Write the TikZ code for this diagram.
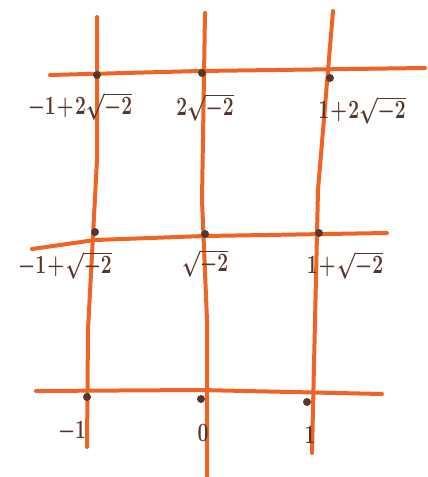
\documentclass[tikz,border=0pt]{standalone}
\usepackage{amsmath}
\usetikzlibrary{positioning}
\definecolor{penorange}{RGB}{240,100,35}
\definecolor{penbrown}{RGB}{85,55,45}
\newcommand{\handlbl}[1]{\scalebox{0.8}[1.1]{\medmuskip=1mu$#1$}}

\begin{document}
\begin{tikzpicture}[
  x=0.5pt, y=-0.5pt,
  gridline/.style={penorange, line width=2pt, line cap=round, line join=round},
  dot/.style={circle, fill=penbrown, inner sep=0pt, minimum size=4pt},
  lbl/.style={text=penbrown, font=\large\boldmath, inner sep=1pt}
]
\useasboundingbox (0,0) rectangle (428,477);
% ends of the vertical lines
\coordinate (vl1) at (97,17);  \coordinate (vl2) at (87,447);
\coordinate (vm1) at (205,13); \coordinate (vm2) at (207,477);
\coordinate (vr1) at (333,11); \coordinate (vr2) at (312,453);
% ends of the horizontal lines
\coordinate (ht1) at (50,75);  \coordinate (ht2) at (425,68);
\coordinate (hm1) at (32,249); \coordinate (hm2) at (387,233);
\coordinate (hb1) at (36,391); \coordinate (hb2) at (382,394);
\draw[gridline] (vl1) -- (97,160) -- (88,330) -- (vl2);
\draw[gridline] (vm1) -- (202,200) -- (207,320) -- (vm2);
\draw[gridline] (vr1) -- (318,190) -- (vr2);
\draw[gridline] (ht1) -- (200,71) -- (ht2);
\draw[gridline] (hm1) -- (95,240) -- (205,236) -- (hm2);
\draw[gridline] (hb1) -- (200,390) -- (hb2);
% lattice points
\node[dot] (ptl) at (97,75) {};
\node[dot] (ptm) at (202,73) {};
\node[dot] (ptr) at (330,78) {};
\node[dot] (pml) at (95,232) {};
\node[dot] (pmm) at (205,234) {};
\node[dot] (pmr) at (319,233) {};
\node[dot] (pbl) at (87,397) {};
\node[dot] (pbm) at (201,399) {};
\node[dot] (pbr) at (307,402) {};
% labels
\node[lbl] (tl) at (80,106) {\handlbl{-1+2\sqrt{-2}}};
\node[lbl] (tm) at (205,107) {\handlbl{2\sqrt{-2}}};
\node[lbl] (tr) at (362,110) {\handlbl{1+2\sqrt{-2}}};
\node[lbl] (ml) at (65,265) {\handlbl{-1+\sqrt{-2}}};
\node[lbl] (mm) at (205,263) {\handlbl{\sqrt{-2}}};
\node[lbl] (mr) at (345,265) {\handlbl{1+\sqrt{-2}}};
\node[lbl] (bl) at (72,432) {\handlbl{-1}};
\node[lbl] (bm) at (203,433) {\handlbl{0}};
\node[lbl] (br) at (310,435) {\handlbl{1}};
\end{tikzpicture}
\end{document}
